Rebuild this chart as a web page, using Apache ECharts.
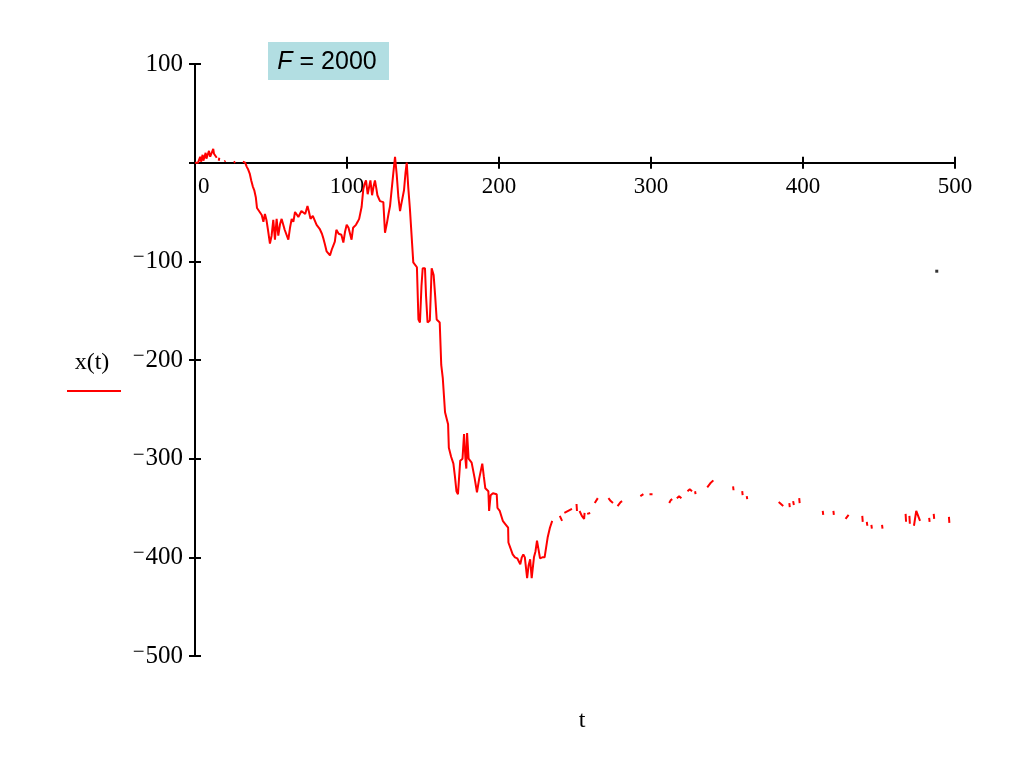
<!DOCTYPE html>
<html><head><meta charset="utf-8">
<script src="https://cdn.jsdelivr.net/npm/echarts@6/dist/echarts.min.js"></script>
<style>html,body{margin:0;padding:0;background:#fff}#c{width:1024px;height:768px}</style>
</head><body><div id="c"></div>
<script>
// time values (null in xValues marks a gap in the trace)
const tValues = [
  0,1,2,3,3.4,4,4.5,5,5.5,6.5,7,7.5,8.5,9.2,10,11,12,12.5,13.3,13.8,14.3,
  15,15.6,16,17,19.4,20,22,25.5,26.5,29,
  31.5,32.5,33,34,35,36,37,38,39,40,40.8,42,43.9,45,46,47,48,49.3,50.4,51.5,52.6,53.7,54.8,56,57,59,61.4,62.5,63.6,64.7,65.8,67,68,69,70,71,72.5,74,75,76,77.5,78.7,80,81,82,83.5,84.5,85.5,86.6,87.5,88.8,90,91,92,93,94.5,96.3,97.6,98.7,99.8,
  101,102,103,104,105,105.9,107,108,109.6,110.7,111.5,112.5,113.6,114.5,115.4,116.5,117.5,118.4,119.3,120,121.7,123,123.9,125,126.3,127.3,128.3,129.4,130.5,131.6,132.7,133.8,134.9,135.6,136.4,137.5,138.5,139.3,140.3,141.4,142.5,143.6,146,147,148,149,149.8,151.3,152,153,154.5,155.7,157,158,159,160,161,162,163,164.5,166,166.5,167,168.5,170,171,172,173,174.5,175.5,176,177,178,178.5,179,180,181,182,184,185.5,187,189,190,191,192,193,193.5,194.5,196,198.5,199,
  200.5,202.5,204,206,206.2,207.5,209,210.5,212,213,214,215,216,217,218,218.5,219.5,220.5,221.5,222,223,224,225,226,227,228.5,230,232,233.5,235,237.5,
  240,241.5,242,243,245.5,248,250,251,251.3,252,253,254.5,256,256.3,257,258,260,261.5,263,265,268,
  272,273.5,275,276,278,280,281,287,293,295,297,299,301,306,312,313,314,315.5,317,318.5,320,322,324,325.5,327,328,329,329.3,333,337,339,341,348,
  354,354.3,357,360,360.3,362,363,363.3,375,384,387,389,391,391.3,392,393.5,394,396,397.5,397.8,405,413,413.3,417,420,420.3,424,428,430,435,
  439,439.3,440.5,442,442.3,443.5,445,445.3,448,452,452.3,460,467.5,467.8,469,470,470.3,471.5,473,474.5,477,480,483,483.3,484.5,486,486.3,490,496,496.3
];
const xValues = [
  0,1,0,2,6,1,2,8,2,3,10,4,5,12,6,7,14,9,8,10,5,
  null,2,5,null,1,2,null,0,1,null,
  1,0,0,-4,-7,-11,-18,-24,-28,-35,-46,-44,-53,-60,-52,-58,-68,-82,-74,-58,-78,-57,-74,-62,-57,-68,-78,-66,-57,-60,-50,-48,-55,-53,-49,-47,-52,-44,-50,-57,-54,-55,-63,-65,-67,-72,-77,-83,-90,-88,-94,-88,-84,-80,-68,-72,-73,-81,-70,-63,
  -66,-68,-78,-66,-65,-63,-60,-57,-45,-27,-22,-18,-32,-25,-18,-33,-24,-18,-26,-33,-39,-41,-40,-71,-61,-52,-44,-27,-10,6,-12,-35,-49,-43,-45,-28,-10,0,-25,-47,-46,-101,-106,-159,-162,-125,-107,-107,-135,-162,-160,-107,-114,-135,-159,-160,-162,-205,-218,-253,-262,-265,-289,-298,-305,-318,-333,-336,-302,-303,-300,-275,-302,-310,-274,-300,-300,-304,-320,-334,-320,-305,-318,-330,-331,-333,-353,-337,-335,-336,-350,
  -353,-363,-366,-370,-385,-386,-397,-400,-401,-404,-407,-400,-397,-400,-402,-421,-408,-402,-421,-421,-400,-394,-383,-383,-401,-400,-400,-380,-370,-363,null,
  -358,-363,null,-355,-353,-351,null,-346,-353,null,-353,-358,-361,-355,null,-356,-355,null,-345,-340,null,
  -340,-343,-345,null,-348,-344,-343,null,-338,-336,null,-336,-336,null,-345,-342,-341,null,-340,-338,-340,null,-333,-331,-333,null,-333,-336,null,-329,-325,-322,null,
  -328,-332,null,-333,-337,null,-338,-341,null,-344,-348,null,-345,-349,null,-343,-347,null,-340,-345,null,-353,-357,null,-353,-357,null,-361,-357,null,
  -358,-364,null,-364,-368,null,-367,-371,null,-367,-371,null,-356,-364,null,-358,-366,null,-368,-353,-363,null,-360,-364,null,-356,-361,null,-359,-365
];
const strayPoint = [[488, -110]];
const xTicks = { min: 0, max: 500, step: 100 };
const yTicks = { min: -500, max: 100, step: 100 };
const paramName = 'F';
const paramValue = '2000';
const yName = 'x(t)';
const xName = 't';

const lineData = tValues.map((t, i) => [t, xValues[i] === null ? '-' : xValues[i]]);

const chart = echarts.init(document.getElementById('c'), null, { renderer: 'canvas' });
const serif = 'Liberation Serif';
const black = '#000';
const yLabelFmt = v => v === 0 ? '' : (v < 0 ? '{m|\u2212}{n|' + Math.abs(v) + '}' : '{n|' + v + '}');
const xLabelFmt = v => v === 0 ? '{z|0}' : '{n|' + v + '}';

const gridTop = 64, gridBottom = 112, plotH = 768 - gridTop - gridBottom;
const zeroOffset = plotH * (yTicks.max - 0) / (yTicks.max - yTicks.min);

chart.setOption({
  animation: false,
  backgroundColor: '#fff',
  grid: [
    { left: 195, right: 69, top: gridTop, bottom: gridBottom, containLabel: false },
    { left: 195, right: 69, top: gridTop, height: zeroOffset, containLabel: false }
  ],
  xAxis: [
    { type: 'value', gridIndex: 0, min: xTicks.min, max: xTicks.max, interval: xTicks.step,
      axisLine: { onZero: true, lineStyle: { color: black, width: 2 } },
      axisTick: { length: 6, lineStyle: { color: black, width: 2 } },
      splitLine: { show: false }, axisLabel: { show: false } },
    { type: 'value', gridIndex: 0, min: xTicks.min, max: xTicks.max, interval: xTicks.step, position: 'bottom',
      axisLine: { show: false, onZero: true },
      axisTick: { inside: true, length: 6, lineStyle: { color: black, width: 2 } },
      splitLine: { show: false }, axisLabel: { show: false } },
    { type: 'value', gridIndex: 1, min: xTicks.min, max: xTicks.max, interval: xTicks.step, position: 'bottom',
      axisLine: { show: false, onZero: false }, axisTick: { show: false }, splitLine: { show: false },
      axisLabel: { color: black, margin: 13, alignMinLabel: 'left', formatter: xLabelFmt,
        rich: { z: { fontFamily: serif, fontSize: 23, color: black, padding: [0, 0, 0, 3] },
                n: { fontFamily: serif, fontSize: 23, color: black } } } }
  ],
  yAxis: [
    { type: 'value', gridIndex: 0, min: yTicks.min, max: yTicks.max, interval: yTicks.step,
      axisLine: { onZero: true, lineStyle: { color: black, width: 2 } },
      axisTick: { length: 6, lineStyle: { color: black, width: 2 } },
      splitLine: { show: false },
      axisLabel: { color: black, margin: 12, formatter: yLabelFmt,
        rich: { m: { fontFamily: serif, fontSize: 21, color: black, padding: [0, 1, 7, 0] },
                n: { fontFamily: serif, fontSize: 25, color: black } } } },
    { type: 'value', gridIndex: 0, min: yTicks.min, max: yTicks.max, interval: yTicks.step, position: 'left',
      axisLine: { show: false, onZero: true },
      axisTick: { inside: true, length: 6, lineStyle: { color: black, width: 2 } },
      splitLine: { show: false }, axisLabel: { show: false } },
    { type: 'value', gridIndex: 1, min: 0, max: 1, show: false }
  ],
  series: [
    { type: 'line', data: lineData, xAxisIndex: 0, yAxisIndex: 0, showSymbol: false, connectNulls: false,
      lineStyle: { color: '#ff0000', width: 2 }, silent: true },
    { type: 'scatter', data: strayPoint, xAxisIndex: 0, yAxisIndex: 0, symbol: 'rect', symbolSize: 3,
      itemStyle: { color: black }, silent: true }
  ],
  graphic: [
    { type: 'rect', shape: { x: 268, y: 42, width: 121, height: 38 }, style: { fill: '#b2dee2' } },
    { type: 'text', x: 327, y: 62, style: {
        text: '{i|' + paramName + '}{n| = ' + paramValue + '}', align: 'center', verticalAlign: 'middle',
        rich: { i: { fontStyle: 'italic', fontFamily: 'Liberation Sans', fontSize: 25, fill: '#000' },
                n: { fontFamily: 'Liberation Sans', fontSize: 25, fill: '#000' } } } },
    { type: 'text', x: 92, y: 363, style: { text: yName, font: '24px "Liberation Serif"', fill: '#000', align: 'center', verticalAlign: 'middle' } },
    { type: 'line', shape: { x1: 67, y1: 391, x2: 121, y2: 391 }, style: { stroke: '#ff0000', lineWidth: 2 } },
    { type: 'text', x: 582, y: 721, style: { text: xName, font: '24px "Liberation Serif"', fill: '#000', align: 'center', verticalAlign: 'middle' } }
  ]
});
</script>
</body></html>
